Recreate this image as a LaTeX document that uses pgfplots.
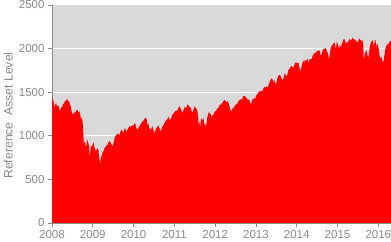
\documentclass[border=0pt]{standalone}
\usepackage{pgfplots}
\pgfplotsset{compat=1.18}
\usepackage{fontspec}
\setmainfont{Liberation Sans}
\definecolor{txtgray}{RGB}{137,137,137}
\definecolor{bggray}{RGB}{217,217,217}
\definecolor{axgray}{RGB}{140,140,140}
\begin{document}
\begin{tikzpicture}
\begin{axis}[
  scale only axis,
  width=339bp, height=218bp,
  xmin=2008, xmax=2016.31,
  ymin=0, ymax=2500,
  xtick={2008,2009,...,2016},
  ytick={0,500,...,2500},
  /pgf/number format/1000 sep={},
  /pgf/number format/assume math mode=true,
  axis x line*=bottom, axis y line*=left,
  axis line style={draw=axgray, line width=0.8bp},
  tick style={draw=axgray, line width=0.8bp},
  tick align=outside, major tick length=4bp,
  ymajorgrids, grid style={draw=white, line width=1bp},
  axis background/.style={fill=bggray},
  tick label style={font=\fontsize{11.5bp}{12bp}\selectfont, text=txtgray},
  ylabel={Reference\ \ Asset Level},
  ylabel style={font=\fontsize{12.2bp}{13bp}\selectfont, text=txtgray, at={(axis description cs:-0.129,0.493)}, anchor=center},
  set layers,
]
\addplot[fill=red, draw=none] table[x=t, y=v] {
t v
2008.00 1447
2008.02 1420
2008.04 1390
2008.06 1325
2008.08 1355
2008.10 1380
2008.12 1335
2008.15 1350
2008.17 1330
2008.19 1275
2008.21 1310
2008.23 1330
2008.25 1325
2008.27 1370
2008.29 1365
2008.31 1390
2008.33 1400
2008.35 1410
2008.37 1425
2008.40 1390
2008.42 1400
2008.44 1360
2008.46 1340
2008.48 1280
2008.50 1260
2008.52 1240
2008.54 1260
2008.56 1280
2008.58 1265
2008.60 1295
2008.62 1300
2008.65 1270
2008.67 1280
2008.69 1250
2008.71 1190
2008.73 1210
2008.75 1160
2008.76 1100
2008.78 900
2008.80 940
2008.82 900
2008.84 870
2008.86 960
2008.88 930
2008.90 900
2008.92 800
2008.93 760
2008.95 890
2008.97 870
2009.00 900
2009.02 930
2009.04 870
2009.06 840
2009.08 830
2009.10 840
2009.12 860
2009.14 830
2009.15 770
2009.17 720
2009.18 680
2009.20 750
2009.22 770
2009.24 810
2009.26 820
2009.28 850
2009.30 870
2009.32 870
2009.34 900
2009.36 890
2009.38 920
2009.40 940
2009.42 930
2009.44 920
2009.46 900
2009.48 880
2009.50 900
2009.52 940
2009.54 980
2009.56 1000
2009.58 1010
2009.60 1020
2009.62 1030
2009.65 1000
2009.67 1040
2009.69 1060
2009.71 1070
2009.73 1050
2009.75 1030
2009.77 1070
2009.79 1090
2009.81 1060
2009.83 1040
2009.85 1070
2009.87 1090
2009.90 1110
2009.92 1100
2009.94 1110
2009.96 1120
2009.98 1115
2010.00 1120
2010.02 1140
2010.04 1145
2010.06 1100
2010.08 1080
2010.10 1070
2010.12 1090
2010.14 1110
2010.16 1120
2010.18 1140
2010.20 1150
2010.22 1165
2010.24 1170
2010.26 1190
2010.28 1200
2010.30 1210
2010.32 1190
2010.34 1110
2010.36 1150
2010.38 1090
2010.40 1080
2010.42 1070
2010.44 1090
2010.46 1110
2010.48 1080
2010.50 1040
2010.52 1035
2010.54 1070
2010.56 1090
2010.58 1100
2010.60 1120
2010.62 1100
2010.64 1080
2010.66 1060
2010.67 1050
2010.69 1090
2010.71 1110
2010.73 1120
2010.75 1140
2010.77 1160
2010.79 1170
2010.81 1180
2010.83 1190
2010.85 1220
2010.87 1200
2010.89 1180
2010.92 1200
2010.94 1230
2010.96 1245
2010.98 1258
2011.00 1270
2011.02 1280
2011.04 1290
2011.06 1285
2011.08 1300
2011.10 1320
2011.12 1340
2011.14 1320
2011.16 1310
2011.18 1280
2011.20 1260
2011.22 1290
2011.24 1320
2011.26 1330
2011.28 1315
2011.30 1330
2011.32 1360
2011.34 1350
2011.36 1340
2011.38 1330
2011.40 1320
2011.42 1290
2011.44 1270
2011.46 1280
2011.48 1320
2011.50 1340
2011.52 1320
2011.54 1310
2011.56 1290
2011.58 1240
2011.60 1100
2011.62 1170
2011.63 1100
2011.65 1180
2011.67 1200
2011.69 1170
2011.71 1210
2011.73 1130
2011.75 1140
2011.77 1100
2011.79 1150
2011.81 1220
2011.83 1250
2011.85 1280
2011.87 1240
2011.89 1260
2011.91 1200
2011.93 1240
2011.95 1230
2011.97 1260
2012.00 1280
2012.04 1300
2012.06 1320
2012.08 1320
2012.10 1350
2012.12 1350
2012.15 1370
2012.17 1370
2012.19 1390
2012.21 1400
2012.23 1410
2012.25 1405
2012.27 1380
2012.29 1390
2012.31 1400
2012.33 1370
2012.35 1340
2012.37 1300
2012.40 1280
2012.42 1310
2012.44 1320
2012.46 1320
2012.48 1350
2012.50 1350
2012.52 1370
2012.54 1360
2012.56 1390
2012.58 1400
2012.60 1410
2012.62 1420
2012.65 1410
2012.67 1430
2012.69 1460
2012.71 1455
2012.73 1450
2012.75 1450
2012.77 1430
2012.79 1420
2012.81 1410
2012.83 1420
2012.85 1390
2012.87 1360
2012.90 1400
2012.92 1420
2012.94 1420
2012.96 1440
2012.98 1410
2013.00 1460
2013.04 1480
2013.06 1500
2013.08 1505
2013.10 1510
2013.13 1520
2013.15 1500
2013.17 1530
2013.19 1550
2013.21 1560
2013.23 1550
2013.25 1570
2013.27 1560
2013.29 1550
2013.31 1590
2013.33 1610
2013.35 1630
2013.37 1660
2013.40 1650
2013.42 1630
2013.44 1610
2013.46 1640
2013.48 1580
2013.50 1610
2013.52 1650
2013.54 1680
2013.56 1690
2013.58 1700
2013.60 1690
2013.62 1660
2013.65 1640
2013.67 1650
2013.69 1690
2013.71 1720
2013.73 1690
2013.75 1680
2013.77 1700
2013.79 1750
2013.81 1760
2013.83 1770
2013.85 1790
2013.87 1800
2013.90 1790
2013.92 1780
2013.94 1810
2013.96 1840
2014.00 1840
2014.02 1830
2014.04 1840
2014.06 1790
2014.08 1760
2014.10 1740
2014.12 1800
2014.14 1840
2014.16 1850
2014.18 1870
2014.20 1840
2014.22 1870
2014.24 1860
2014.26 1890
2014.28 1830
2014.30 1860
2014.32 1880
2014.35 1880
2014.37 1880
2014.39 1920
2014.41 1930
2014.43 1950
2014.45 1940
2014.47 1960
2014.50 1970
2014.52 1980
2014.54 1970
2014.56 1980
2014.58 1930
2014.60 1920
2014.62 1960
2014.65 1990
2014.67 2000
2014.69 2000
2014.71 2010
2014.73 1980
2014.75 1960
2014.77 1930
2014.79 1870
2014.81 1940
2014.83 2000
2014.85 2030
2014.88 2040
2014.90 2060
2014.92 2070
2014.94 2050
2014.96 1990
2014.98 2080
2015.00 2060
2015.02 2020
2015.04 2000
2015.06 2050
2015.08 2010
2015.10 2050
2015.12 2070
2015.14 2100
2015.16 2110
2015.18 2100
2015.20 2050
2015.22 2080
2015.24 2060
2015.26 2080
2015.28 2100
2015.30 2110
2015.33 2090
2015.35 2110
2015.37 2125
2015.39 2110
2015.41 2110
2015.43 2090
2015.45 2100
2015.47 2080
2015.49 2060
2015.51 2090
2015.53 2120
2015.55 2100
2015.57 2100
2015.59 2080
2015.61 2100
2015.63 2040
2015.64 1900
2015.65 1880
2015.67 1950
2015.69 1960
2015.71 1980
2015.73 1930
2015.75 1890
2015.77 1950
2015.79 2020
2015.81 2060
2015.83 2080
2015.85 2100
2015.87 2080
2015.89 2020
2015.91 2090
2015.93 2100
2015.95 2010
2015.97 2060
2015.99 2040
2016.01 1990
2016.03 1920
2016.05 1880
2016.07 1910
2016.09 1880
2016.11 1840
2016.13 1860
2016.15 1930
2016.17 1990
2016.19 2020
2016.21 2050
2016.23 2040
2016.25 2060
2016.27 2070
2016.29 2090
2016.31 2085
} \closedcycle;
\end{axis}
\pgfresetboundingbox
\useasboundingbox (-52bp,-19bp) rectangle (339bp,223bp);
\end{tikzpicture}
\end{document}
